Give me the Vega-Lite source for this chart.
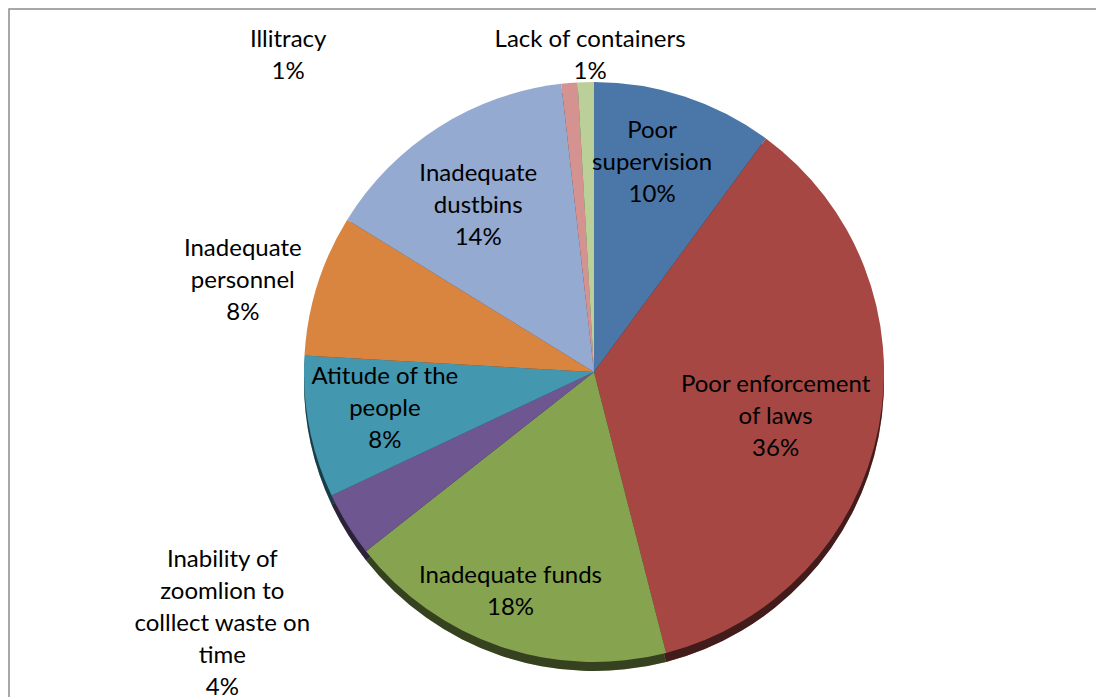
{
  "$schema": "https://vega.github.io/schema/vega-lite/v6.json",
  "width": 1170,
  "height": 726,
  "autosize": {"type": "none"},
  "padding": {"left": 9, "top": 9, "right": -83, "bottom": -38},
  "background": "white",
  "view": {"stroke": "#8c8c8c", "strokeWidth": 1.5, "fill": "white"},
  "config": {
    "text": {"font": "Lato", "fontSize": 24, "lineHeight": 32, "lineBreak": "\n", "align": "center", "baseline": "middle"}
  },
  "data": {
    "values": [
      {"order": 1, "cause": "Poor supervision", "share": 0.101, "label": "Poor\nsupervision\n10%"},
      {"order": 2, "cause": "Poor enforcement of laws", "share": 0.359, "label": "Poor enforcement\nof laws\n36%"},
      {"order": 3, "cause": "Inadequate funds", "share": 0.184, "label": "Inadequate funds\n18%"},
      {"order": 4, "cause": "Inability of zoomlion to colllect waste on time", "share": 0.036, "label": "Inability of\nzoomlion to\ncolllect waste on\ntime\n4%"},
      {"order": 5, "cause": "Atitude of the people", "share": 0.079, "label": "Atitude of the\npeople\n8%"},
      {"order": 6, "cause": "Inadequate personnel", "share": 0.079, "label": "Inadequate\npersonnel\n8%"},
      {"order": 7, "cause": "Inadequate dustbins", "share": 0.144, "label": "Inadequate\ndustbins\n14%"},
      {"order": 8, "cause": "Illitracy", "share": 0.009, "label": "Illitracy\n1%"},
      {"order": 9, "cause": "Lack of containers", "share": 0.009, "label": "Lack of containers\n1%"}
    ]
  },
  "encoding": {
    "theta": {"field": "share", "type": "quantitative", "stack": true},
    "order": {"field": "order", "type": "quantitative"},
    "color": {
      "field": "cause",
      "type": "nominal",
      "legend": null,
      "scale": {
        "domain": ["Poor supervision", "Poor enforcement of laws", "Inadequate funds", "Inability of zoomlion to colllect waste on time", "Atitude of the people", "Inadequate personnel", "Inadequate dustbins", "Illitracy", "Lack of containers"],
        "range": ["#4a76a8", "#a64744", "#86a34f", "#6e5790", "#4397ae", "#d9853f", "#94aad0", "#d49391", "#bbcf98"]
      }
    }
  },
  "layer": [
    {"mark": {"type": "arc", "outerRadius": 290, "yOffset": 9}},
    {"mark": {"type": "arc", "outerRadius": 290, "yOffset": 9, "fillOpacity": 0.6}, "encoding": {"color": {"value": "#000000"}}},
    {"mark": {"type": "arc", "outerRadius": 290}},
    {"mark": {"type": "text", "radius": 215, "dx": -9, "dy": -37}, "encoding": {"color": {"value": "#000000"}, "text": {"condition": {"test": "datum.order === 1", "field": "label"}, "value": ""}}},
    {"mark": {"type": "text", "radius": 185, "dx": 0, "dy": -22}, "encoding": {"color": {"value": "#000000"}, "text": {"condition": {"test": "datum.order === 2", "field": "label"}, "value": ""}}},
    {"mark": {"type": "text", "radius": 232, "dx": -9, "dy": -16}, "encoding": {"color": {"value": "#000000"}, "text": {"condition": {"test": "datum.order === 3", "field": "label"}, "value": ""}}},
    {"mark": {"type": "text", "radius": 445, "dx": 7, "dy": -46}, "encoding": {"color": {"value": "#000000"}, "text": {"condition": {"test": "datum.order === 4", "field": "label"}, "value": ""}}},
    {"mark": {"type": "text", "radius": 213, "dx": 0, "dy": -36}, "encoding": {"color": {"value": "#000000"}, "text": {"condition": {"test": "datum.order === 5", "field": "label"}, "value": ""}}},
    {"mark": {"type": "text", "radius": 365, "dx": -3, "dy": -13}, "encoding": {"color": {"value": "#000000"}, "text": {"condition": {"test": "datum.order === 6", "field": "label"}, "value": ""}}},
    {"mark": {"type": "text", "radius": 203, "dx": -7, "dy": -27}, "encoding": {"color": {"value": "#000000"}, "text": {"condition": {"test": "datum.order === 7", "field": "label"}, "value": ""}}},
    {"mark": {"type": "text", "radius": 317, "dx": -279, "dy": -16}, "encoding": {"color": {"value": "#000000"}, "text": {"condition": {"test": "datum.order === 8", "field": "label"}, "value": ""}}},
    {"mark": {"type": "text", "radius": 316, "dx": 5, "dy": -16}, "encoding": {"color": {"value": "#000000"}, "text": {"condition": {"test": "datum.order === 9", "field": "label"}, "value": ""}}}
  ]
}
